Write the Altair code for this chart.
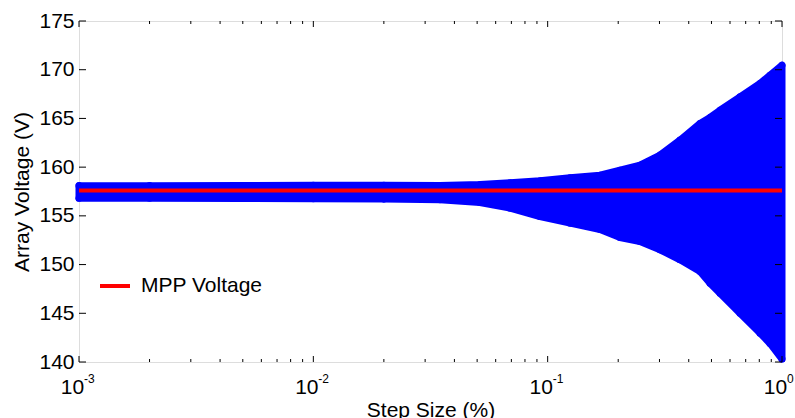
import altair as alt
import pandas as pd

# ---- data ----
steps = [0.001, 0.002, 0.005, 0.01, 0.02, 0.0347, 0.0514, 0.0691, 0.0927, 0.1246,
         0.1673, 0.2035, 0.2477, 0.3015, 0.367, 0.4467, 0.4929, 0.5437, 0.6617,
         0.8056, 0.8887, 1.0]
v_upper = [158.10, 158.10, 158.12, 158.15, 158.15, 158.12, 158.22, 158.39, 158.60, 158.91,
           159.17, 159.69, 160.20, 161.23, 162.77, 164.48, 165.10, 165.84, 167.22,
           168.59, 169.44, 170.46]
v_lower = [156.80, 156.80, 156.78, 156.75, 156.72, 156.65, 156.37, 155.79, 154.93, 154.25,
           153.60, 152.78, 152.37, 151.52, 150.49, 149.29, 148.09, 147.06, 145.01,
           142.96, 141.90, 140.30]

mpp_steps = [0.001, 1.0]
mpp_voltage = [157.6, 157.6]
mpp_label = "MPP Voltage"

y_ticks = [140, 145, 150, 155, 160, 165, 170, 175]
x_major = [0.001, 0.01, 0.1, 1.0]
x_exponents = ["-3", "-2", "-1", "0"]
x_minor = [0.002, 0.003, 0.004, 0.005, 0.006, 0.007, 0.008, 0.009,
           0.02, 0.03, 0.04, 0.05, 0.06, 0.07, 0.08, 0.09,
           0.2, 0.3, 0.4, 0.5, 0.6, 0.7, 0.8, 0.9]

W, H = 703, 341
FONT = "Liberation Sans"
BLUE = "#0000FF"
RED = "#FF0000"

xscale = alt.Scale(type="log", domain=[0.001, 1.0], nice=False)
yscale = alt.Scale(domain=[140, 175], nice=False, zero=False)

xaxis = alt.Axis(
    values=x_major, labelExpr="'10'", labelFont=FONT, labelFontSize=21,
    labelColor="black", labelPadding=14, labelOffset=-7, labelFlush=False,
    labelOverlap=False, ticks=False, domain=False,
    grid=False, title="Step Size (%)", titleFont=FONT, titleFontSize=21,
    titleFontWeight="normal", titleColor="black", titlePadding=2)
yaxis = alt.Axis(
    values=y_ticks, labelFont=FONT, labelFontSize=21, labelColor="black",
    labelPadding=5, labelFlush=False, labelOverlap=False, ticks=False, domain=False,
    grid=False, title="Array Voltage (V)", titleFont=FONT, titleFontSize=21,
    titleFontWeight="normal", titleColor="black", titlePadding=6)


def X(field):
    return alt.X(field, scale=xscale, axis=xaxis, title="Step Size (%)")


def Y(field):
    return alt.Y(field, scale=yscale, axis=yaxis, title="Array Voltage (V)")


cloud = pd.DataFrame({"step": steps, "upper": v_upper, "lower": v_lower})

area = alt.Chart(cloud).mark_area(
    color=BLUE, stroke=BLUE, strokeWidth=7, strokeJoin="round", opacity=1, clip=False
).encode(x=X("step:Q"), y=Y("upper:Q"), y2="lower:Q")

dots = alt.Chart(cloud).transform_fold(["upper", "lower"], as_=["edge", "v"]).mark_circle(
    color=BLUE, size=50, opacity=1, clip=False
).encode(x=X("step:Q"), y=Y("v:Q"))

mpp = pd.DataFrame({"step": mpp_steps, "v": mpp_voltage, "series": [mpp_label] * 2})
line = alt.Chart(mpp).mark_line(strokeWidth=4).encode(
    x=X("step:Q"), y=Y("v:Q"),
    color=alt.Color("series:N", scale=alt.Scale(domain=[mpp_label], range=[RED]),
                    legend=alt.Legend(title=None, orient="none", legendX=19, legendY=248,
                                      symbolType="stroke", symbolStrokeWidth=4,
                                      symbolSize=900, labelFont=FONT, labelFontSize=21,
                                      labelColor="black", labelOffset=9, padding=0)),
)

yt = pd.DataFrame({"v": y_ticks})
ytick_left = alt.Chart(yt).mark_rule(color="black", strokeWidth=1).encode(
    y=Y("v:Q"), x=alt.value(0), x2=alt.value(7))
ytick_right = alt.Chart(yt).mark_rule(color="black", strokeWidth=1).encode(
    y=Y("v:Q"), x=alt.value(W - 7), x2=alt.value(W))

xm = pd.DataFrame({"v": x_major})
xn = pd.DataFrame({"v": x_minor})
xtick_major_b = alt.Chart(xm).mark_rule(color="black", strokeWidth=1).encode(
    x=X("v:Q"), y=alt.value(H), y2=alt.value(H - 6))
xtick_major_t = alt.Chart(xm).mark_rule(color="black", strokeWidth=1).encode(
    x=X("v:Q"), y=alt.value(0), y2=alt.value(6))
xtick_minor_b = alt.Chart(xn).mark_rule(color="black", strokeWidth=1).encode(
    x=X("v:Q"), y=alt.value(H), y2=alt.value(H - 3))
xtick_minor_t = alt.Chart(xn).mark_rule(color="black", strokeWidth=1).encode(
    x=X("v:Q"), y=alt.value(0), y2=alt.value(3))

exps = pd.DataFrame({"v": x_major, "e": x_exponents})
exp_text = alt.Chart(exps).mark_text(
    align="left", baseline="top", font=FONT, fontSize=12, color="black", dx=5
).encode(x=X("v:Q"), y=alt.value(H + 12), text="e:N")

chart = alt.layer(
    area, dots, line, ytick_left, ytick_right,
    xtick_major_b, xtick_major_t, xtick_minor_b, xtick_minor_t, exp_text
).properties(
    width=W, height=H,
    padding={"left": 79, "top": 21, "right": 13, "bottom": 56},
    autosize=alt.AutoSizeParams(type="none"),
).configure_view(stroke="black", strokeWidth=1).configure(font=FONT, background="white")

chart.save("out.html", embed_options={"renderer": "svg", "actions": False})
